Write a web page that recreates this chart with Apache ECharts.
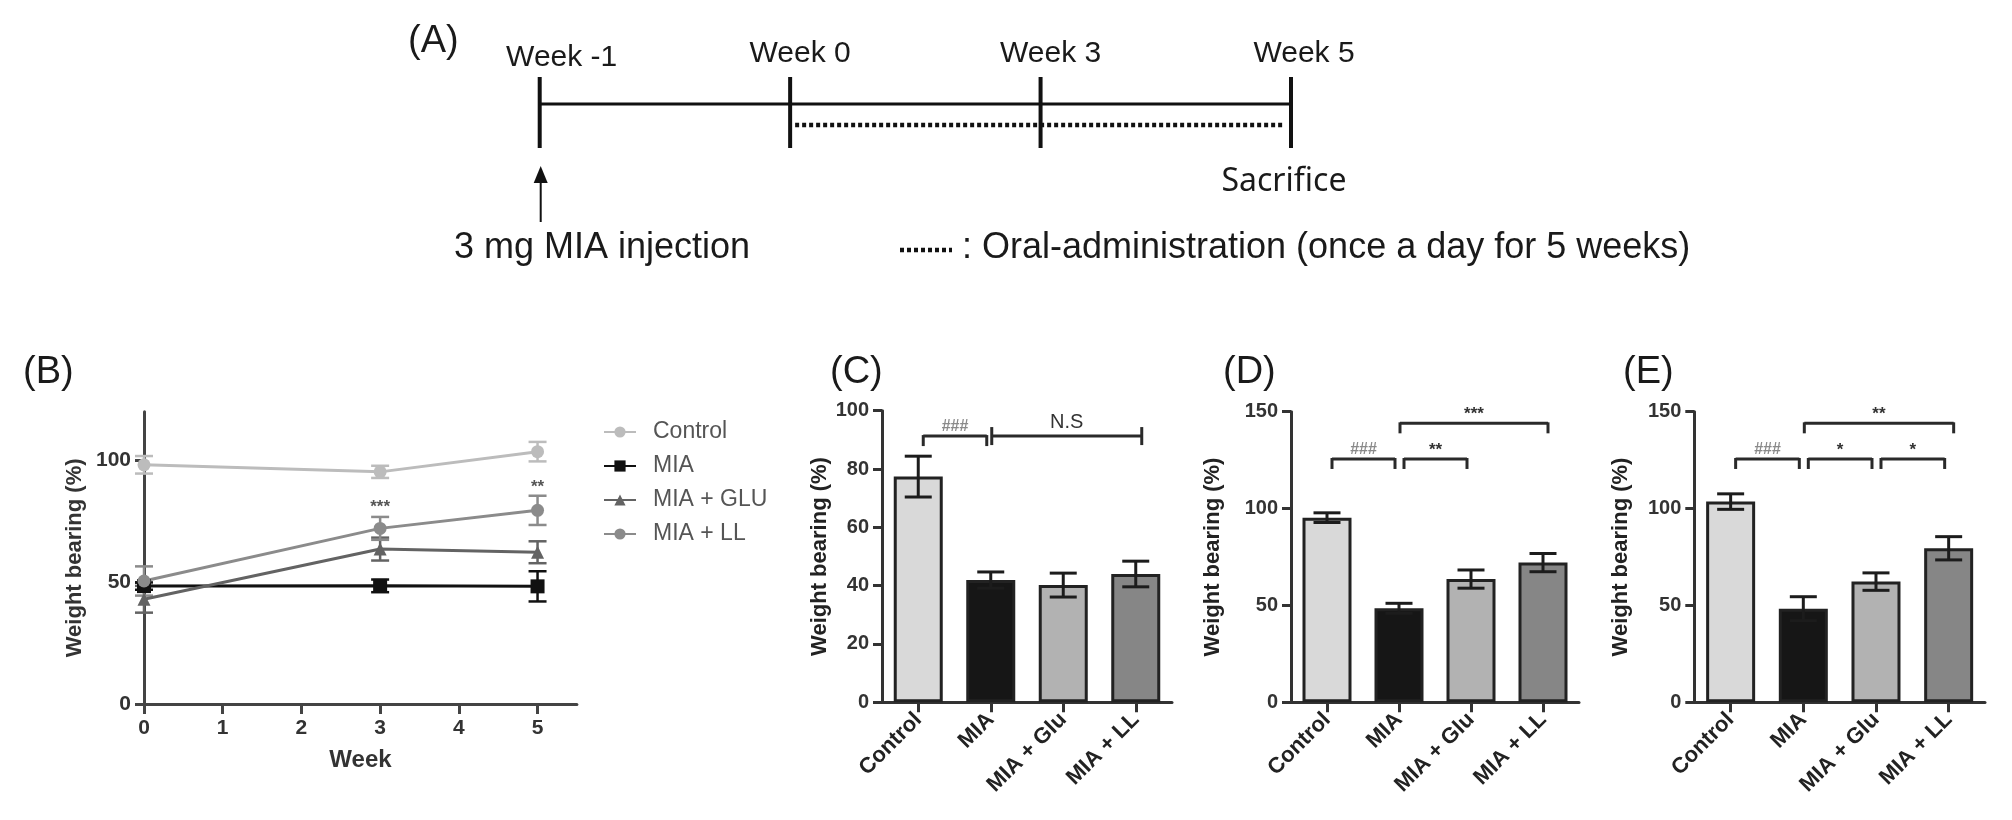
<!DOCTYPE html>
<html><head><meta charset="utf-8">
<script src="https://cdn.jsdelivr.net/npm/echarts@6.0.0/dist/echarts.min.js"></script>
<style>html,body{margin:0;padding:0;background:#fff}#c{width:2012px;height:820px}</style>
</head><body><div id="c"></div>
<script>
// ---------- DATA ----------
const timelineLabels = ['Week -1', 'Week 0', 'Week 3', 'Week 5'];
const periods = [['Week -1', 'Week 5'], ['Week 0', 'Week 5']]; // study span, oral administration

const weeksB = [0, 3, 5];
const controlB = [98.2, 95.3, 103.6];
const controlErrB = [3.6, 2.5, 4.0];
const miaB = [48.4, 48.5, 48.3];
const miaErrB = [1.5, 2.6, 6.2];
const gluB = [43.0, 63.6, 62.3];
const gluErrB = [5.5, 4.7, 4.5];
const llB = [50.5, 72.1, 79.5];
const llErrB = [6.0, 4.7, 6.0];
const starsB = [[3, 80.6, '***'], [5, 89.0, '**']];

const groups = ['Control', 'MIA', 'MIA + Glu', 'MIA + LL'];
const valuesC = [77.4, 41.9, 40.2, 44.0];
const errC = [7.0, 2.8, 4.1, 4.4];
const valuesD = [95.3, 48.5, 63.6, 72.1];
const errD = [2.5, 2.6, 4.7, 4.7];
const valuesE = [103.6, 48.3, 62.3, 79.5];
const errE = [4.0, 6.2, 4.5, 6.0];

const bracketsC = [[0, 1, 91.3, '###'], [1, 3, 91.3, 'N.S']];
const bracketsD = [[0, 1, 125.6, '###'], [1, 2, 125.6, '**'], [1, 3, 144, '***']];
const bracketsE = [[0, 1, 125.6, '###'], [1, 2, 125.6, '*'], [2, 3, 125.6, '*'], [1, 3, 144, '**']];

const yTicksB = [0, 50, 100];
const xTicksB = [0, 1, 2, 3, 4, 5];

// ---------- STYLE ----------
const FF = '"Liberation Sans", Arial, sans-serif';
const barColors = ['#d9d9d9', '#161616', '#b2b2b2', '#868686'];
const lineColors = { 'Control': '#bcbcbc', 'MIA': '#111111', 'MIA + GLU': '#636363', 'MIA + LL': '#8b8b8b' };

const chart = echarts.init(document.getElementById('c'), null, { renderer: 'canvas' });

function timelineRender(params, api) {
  const i = api.value(0);
  const top = api.coord([i, 1]);
  const bot = api.coord([i, 0]);
  const x = top[0];
  const dx = [22, 10, 10, 13][i];
  const dy = [4, 0, 0, 0][i];
  const kids = [
    { type: 'line', shape: { x1: x, y1: top[1], x2: x, y2: bot[1] }, style: { stroke: '#111', lineWidth: 4 } },
    { type: 'text', x: x + dx, y: top[1] - 23 + dy, style: { text: timelineLabels[i], font: '30px ' + FF, fill: '#1a1a1a', align: 'center', verticalAlign: 'middle' } }
  ];
  if (i === 0) {
    kids.push({ type: 'line', shape: { x1: x + 1, y1: bot[1] + 74, x2: x + 1, y2: bot[1] + 32 }, style: { stroke: '#111', lineWidth: 2 } });
    kids.push({ type: 'polygon', shape: { points: [[x - 6, bot[1] + 35], [x + 8, bot[1] + 35], [x + 1, bot[1] + 18]] }, style: { fill: '#111' } });
  }
  if (i === timelineLabels.length - 1) {
    kids.push({ type: 'text', x: x - 7, y: bot[1] + 34, style: { text: 'Sacrifice', font: '32px "Noto Sans", "Open Sans", sans-serif', fill: '#1a1a1a', align: 'center', verticalAlign: 'middle' } });
  }
  return { type: 'group', children: kids };
}

function periodRender(params, api) {
  const a = api.value(0), b = api.value(1);
  if (params.dataIndex === 0) {
    const p1 = api.coord([a, 0.62]), p2 = api.coord([b, 0.62]);
    return { type: 'line', shape: { x1: p1[0], y1: p1[1], x2: p2[0], y2: p2[1] }, style: { stroke: '#111', lineWidth: 3 } };
  }
  const p1 = api.coord([a, 0.324]), p2 = api.coord([b, 0.324]);
  return { type: 'line', shape: { x1: p1[0] + 5, y1: p1[1], x2: p2[0] - 6, y2: p2[1] }, style: { stroke: '#111', lineWidth: 4.5, lineDash: [4, 3] } };
}

function errRender(color, capW, lw) {
  return function (params, api) {
    const x = api.value(0), m = api.value(1), e = api.value(2);
    const t = api.coord([x, m + e]), b = api.coord([x, m - e]);
    const st = { stroke: color, lineWidth: lw };
    return { type: 'group', children: [
      { type: 'line', shape: { x1: t[0], y1: t[1], x2: b[0], y2: b[1] }, style: st },
      { type: 'line', shape: { x1: t[0] - capW / 2, y1: t[1], x2: t[0] + capW / 2, y2: t[1] }, style: st },
      { type: 'line', shape: { x1: b[0] - capW / 2, y1: b[1], x2: b[0] + capW / 2, y2: b[1] }, style: st }
    ] };
  };
}

function bracketRender(list) {
  return function (params, api) {
    const item = list[params.dataIndex];
    const label = item[3];
    const p1 = api.coord([item[0], item[2]]), p2 = api.coord([item[1], item[2]]);
    const y = p1[1];
    const st = { stroke: '#2a2a2a', lineWidth: 3 };
    const kids = [];
    let x1, x2;
    if (label === 'N.S') {
      x1 = p1[0] + 1; x2 = p2[0] + 6;
      kids.push({ type: 'line', shape: { x1: x1, y1: y - 9, x2: x1, y2: y + 9 }, style: st });
      kids.push({ type: 'line', shape: { x1: x2, y1: y - 9, x2: x2, y2: y + 9 }, style: st });
    } else {
      x1 = p1[0] + 5; x2 = p2[0] - 4;
      if (item[1] - item[0] > 1) { x2 = p2[0] + 5; x1 = p1[0] + 1; }
      kids.push({ type: 'line', shape: { x1: x1, y1: y - 1, x2: x1, y2: y + 10 }, style: st });
      kids.push({ type: 'line', shape: { x1: x2, y1: y - 1, x2: x2, y2: y + 10 }, style: st });
    }
    kids.push({ type: 'line', shape: { x1: x1, y1: y, x2: x2, y2: y }, style: st });
    const isHash = label.indexOf('#') >= 0;
    kids.push({ type: 'text', x: (x1 + x2) / 2, y: y - (label === 'N.S' ? 14 : 9), style: {
      text: label, font: (isHash ? 'bold 16px ' : (label === 'N.S' ? '20px ' : 'bold 17px ')) + FF,
      fill: isHash ? '#8a8a8a' : '#333', align: 'center', verticalAlign: 'middle' } });
    return { type: 'group', children: kids };
  };
}

function starsRender(params, api) {
  const p = api.coord([api.value(0), api.value(1)]);
  return { type: 'text', x: p[0], y: p[1], style: { text: starsB[params.dataIndex][2], font: 'bold 17px ' + FF, fill: '#555', align: 'center', verticalAlign: 'middle' } };
}

function catAxis(gi) {
  return {
    type: 'category', gridIndex: gi, data: groups,
    axisLine: { lineStyle: { color: '#333', width: 3 } },
    axisTick: { show: true, alignWithLabel: true, length: 10, lineStyle: { width: 3, color: '#333' } },
    axisLabel: { rotate: 45, interval: 0, fontWeight: 'bold', fontSize: 22, color: '#222', margin: 14, fontFamily: FF },
    splitLine: { show: false }
  };
}
function valAxis(gi, max, interval, gap) {
  return {
    type: 'value', gridIndex: gi, min: 0, max: max, interval: interval,
    name: 'Weight bearing (%)', nameLocation: 'middle', nameGap: gap, nameRotate: 90,
    nameTextStyle: { fontWeight: 'bold', fontSize: 22, color: '#222', fontFamily: FF },
    axisLine: { show: true, lineStyle: { color: '#333', width: 3 } },
    axisTick: { show: true, length: 9, lineStyle: { width: 3, color: '#333' } },
    axisLabel: { fontSize: 20, fontWeight: 'bold', color: '#333', margin: 13, fontFamily: FF },
    splitLine: { show: false }
  };
}

const lineNames = ['Control', 'MIA', 'MIA + GLU', 'MIA + LL'];
const lineVals = [controlB, miaB, gluB, llB];
const lineErrs = [controlErrB, miaErrB, gluErrB, llErrB];
const lineSymbols = ['circle', 'rect', 'triangle', 'circle'];
const lineSymbolSizes = [13, 14, 13, 13];

const series = [];
series.push({ type: 'custom', xAxisIndex: 0, yAxisIndex: 0, silent: true, data: timelineLabels.map((l, i) => [i, 0]), renderItem: timelineRender });
series.push({ type: 'custom', xAxisIndex: 0, yAxisIndex: 0, silent: true, data: periods.map(p => [timelineLabels.indexOf(p[0]), timelineLabels.indexOf(p[1])]), renderItem: periodRender });

lineNames.forEach((n, k) => {
  series.push({ type: 'custom', xAxisIndex: 1, yAxisIndex: 1, silent: true, z: 2,
    data: weeksB.map((w, i) => [w, lineVals[k][i], lineErrs[k][i]]), renderItem: errRender(lineColors[n], 18, 2.5) });
});
lineNames.forEach((n, k) => {
  series.push({ type: 'line', name: n, xAxisIndex: 1, yAxisIndex: 1, z: 3,
    data: weeksB.map((w, i) => [w, lineVals[k][i]]),
    symbol: lineSymbols[k], symbolSize: lineSymbolSizes[k], showAllSymbol: true,
    lineStyle: { color: lineColors[n], width: 3 }, itemStyle: { color: lineColors[n] },
    emphasis: { disabled: true } });
});
series.push({ type: 'custom', xAxisIndex: 1, yAxisIndex: 1, silent: true, z: 4, data: starsB.map(s => [s[0], s[1]]), renderItem: starsRender });

[[valuesC, errC, bracketsC], [valuesD, errD, bracketsD], [valuesE, errE, bracketsE]].forEach((set, j) => {
  const gi = j + 2;
  series.push({ type: 'bar', xAxisIndex: gi, yAxisIndex: gi, barWidth: 49, z: 2,
    data: set[0].map((v, i) => ({ value: v, itemStyle: { color: barColors[i], borderColor: '#222', borderWidth: 3 } })),
    emphasis: { disabled: true } });
  series.push({ type: 'custom', xAxisIndex: gi, yAxisIndex: gi, silent: true, z: 3,
    data: set[0].map((v, i) => [i, v, set[1][i]]), renderItem: errRender('#1c1c1c', 27, 3) });
  series.push({ type: 'custom', xAxisIndex: gi, yAxisIndex: gi, silent: true, z: 3,
    data: set[2].map(b => [b[0], b[2]]), renderItem: bracketRender(set[2]) });
});

const option = {
  backgroundColor: '#ffffff',
  animation: false,
  textStyle: { fontFamily: FF },
  grid: [
    { left: 539.7, top: 77, width: 751.3, height: 71, outerBoundsMode: 'none' },
    { left: 144, top: 411.7, width: 432.9, height: 292.3, outerBoundsMode: 'none' },
    { left: 882, top: 410.7, width: 290, height: 291.6, outerBoundsMode: 'none' },
    { left: 1291, top: 411.7, width: 288, height: 290.6, outerBoundsMode: 'none' },
    { left: 1694.3, top: 411.7, width: 290.7, height: 290.6, outerBoundsMode: 'none' }
  ],
  xAxis: [
    { type: 'category', gridIndex: 0, data: timelineLabels, boundaryGap: false, show: false },
    { type: 'value', gridIndex: 1, min: 0, max: 5.5, interval: 1,
      name: 'Week', nameLocation: 'middle', nameGap: 44,
      nameTextStyle: { fontWeight: 'bold', fontSize: 24, color: '#333', fontFamily: FF },
      axisLine: { show: true, onZero: false, lineStyle: { color: '#444', width: 3 } },
      axisTick: { show: true, length: 10, lineStyle: { width: 3, color: '#444' }, customValues: xTicksB },
      axisLabel: { fontSize: 21, fontWeight: 'bold', color: '#333', margin: 14, customValues: xTicksB,
        formatter: v => (Number.isInteger(v) ? String(v) : '') },
      splitLine: { show: false } },
    catAxis(2), catAxis(3), catAxis(4)
  ],
  yAxis: [
    { type: 'value', gridIndex: 0, min: 0, max: 1, show: false },
    { type: 'value', gridIndex: 1, min: 0, max: 120, interval: 50,
      name: 'Weight bearing (%)', nameLocation: 'middle', nameGap: 58, nameRotate: 90,
      nameTextStyle: { fontWeight: 'bold', fontSize: 22, color: '#333', fontFamily: FF },
      axisLine: { show: true, onZero: false, lineStyle: { color: '#444', width: 3 } },
      axisTick: { show: true, length: 9, lineStyle: { width: 3, color: '#444' }, customValues: yTicksB },
      axisLabel: { fontSize: 21, fontWeight: 'bold', color: '#333', margin: 13, customValues: yTicksB,
        formatter: v => (v % 50 === 0 ? String(v) : '') },
      splitLine: { show: false } },
    valAxis(2, 100, 20, 51), valAxis(3, 150, 50, 67), valAxis(4, 150, 50, 62)
  ],
  legend: {
    data: lineNames, orient: 'vertical', left: 603, top: 420, padding: 0,
    itemWidth: 32, itemHeight: 14, itemGap: 10, selectedMode: false,
    textStyle: { fontSize: 23, color: '#555', lineHeight: 24, padding: [0, 0, 0, 12], fontFamily: FF }
  },
  graphic: [
    { type: 'text', x: 408, y: 42, style: { text: '(A)', font: '38px ' + FF, fill: '#1a1a1a', align: 'left', verticalAlign: 'middle' } },
    { type: 'text', x: 23, y: 373, style: { text: '(B)', font: '38px ' + FF, fill: '#1a1a1a', align: 'left', verticalAlign: 'middle' } },
    { type: 'text', x: 830, y: 373, style: { text: '(C)', font: '38px ' + FF, fill: '#1a1a1a', align: 'left', verticalAlign: 'middle' } },
    { type: 'text', x: 1223, y: 373, style: { text: '(D)', font: '38px ' + FF, fill: '#1a1a1a', align: 'left', verticalAlign: 'middle' } },
    { type: 'text', x: 1623, y: 373, style: { text: '(E)', font: '38px ' + FF, fill: '#1a1a1a', align: 'left', verticalAlign: 'middle' } },
    { type: 'text', x: 454, y: 248, style: { text: '3 mg MIA injection', font: '36px ' + FF, fill: '#1a1a1a', align: 'left', verticalAlign: 'middle' } },
    { type: 'line', shape: { x1: 900, y1: 250, x2: 952, y2: 250 }, style: { stroke: '#111', lineWidth: 4.5, lineDash: [4, 3] } },
    { type: 'text', x: 962, y: 248, style: { text: ': Oral-administration (once a day for 5 weeks)', font: '36px ' + FF, fill: '#1a1a1a', align: 'left', verticalAlign: 'middle' } }
  ],
  series: series
};
chart.setOption(option);
</script>
</body></html>
